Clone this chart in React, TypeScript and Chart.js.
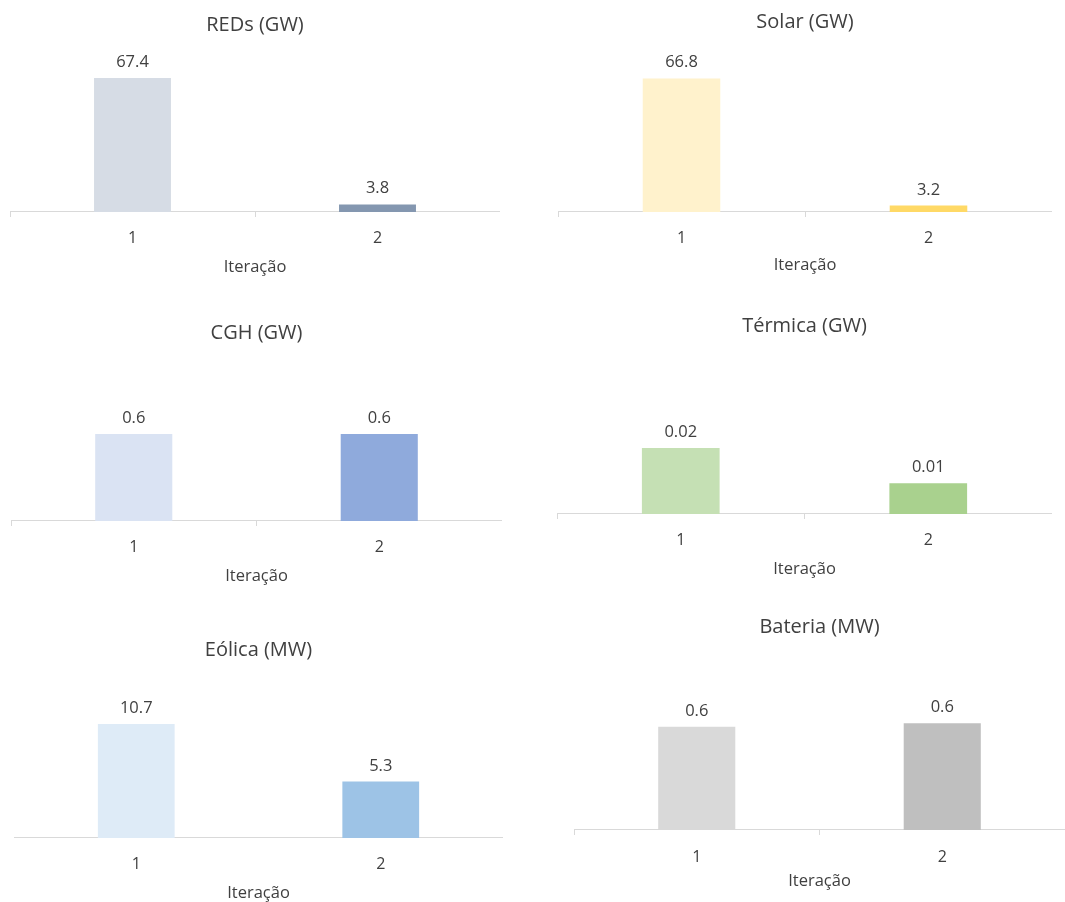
import React, { useEffect, useRef } from "react";
import { Chart, registerables } from "chart.js";

Chart.register(...registerables);

// ---------- data ----------
const categories = ["1", "2"];
const xAxisTitle = "Iteração";
const panelTitles = ["REDs (GW)", "Solar (GW)", "CGH (GW)", "Térmica (GW)", "Eólica (MW)", "Bateria (MW)"];
const redsValues = [67.4, 3.8];
const solarValues = [66.8, 3.2];
const cghValues = [0.6, 0.6];
const termicaValues = [0.0203, 0.0095];
const eolicaValues = [10.7, 5.3];
const bateriaValues = [0.58, 0.6];
const axisMax = [80, 80, 1, 0.04, 14, 1];
const labelDecimals = [1, 1, 1, 2, 1, 1];

// ---------- styles ----------
const panelColors = [
  ["#D6DCE5", "#8497B0"],
  ["#FFF2CC", "#FFD966"],
  ["#DAE3F3", "#8FAADC"],
  ["#C5E0B4", "#A9D18E"],
  ["#DEEBF7", "#9DC3E6"],
  ["#D9D9D9", "#BFBFBF"],
];

const layouts = [
  { left: 10, right: 500, titleY: 25, chartTop: 53, axisY: 212, tickY: 238, axisTitleY: 267, tickMarks: true },
  { left: 558, right: 1052, titleY: 22, chartTop: 52, axisY: 212, tickY: 238, axisTitleY: 265, tickMarks: true },
  { left: 11, right: 502, titleY: 333, chartTop: 376, axisY: 521, tickY: 547, axisTitleY: 576, tickMarks: true },
  { left: 557, right: 1052, titleY: 326, chartTop: 384, axisY: 514, tickY: 540, axisTitleY: 569, tickMarks: true },
  { left: 14, right: 503, titleY: 650, chartTop: 689, axisY: 838, tickY: 864, axisTitleY: 893, tickMarks: false },
  { left: 574, right: 1065, titleY: 627, chartTop: 652, axisY: 830, tickY: 857, axisTitleY: 881, tickMarks: true },
];

const FONT = '"Open Sans", "DejaVu Sans", sans-serif';
const TEXT = "#404040";
const AXIS = "#D9D9D9";
const TITLE_SIZE = 20;
const TITLE_LH = TITLE_SIZE * 1.2;
const TICK_SIZE = 16;
const TICK_LH = TICK_SIZE * 1.0;
const AXT_SIZE = 16.5;
const AXT_LH = AXT_SIZE * 1.2;
const TL = 5;
const DIGIT_OFF = 8;

const barLabelPlugin = {
  id: "barLabels",
  afterDatasetsDraw(chart: any, _args: any, opts: any) {
    const ctx = chart.ctx;
    const meta = chart.getDatasetMeta(0);
    const data = chart.data.datasets[0].data;
    ctx.save();
    ctx.font = `16.5px ${FONT}`;
    ctx.fillStyle = TEXT;
    ctx.textAlign = "center";
    ctx.textBaseline = "alphabetic";
    meta.data.forEach((bar: any, i: number) => {
      ctx.fillText(Number(data[i]).toFixed(opts.decimals ?? 1), bar.x, bar.y - 11);
    });
    ctx.restore();
  },
};

function computeGeometry(l: any) {
  const canvasTop = Math.round(l.titleY - TITLE_LH / 2);
  const titlePadBottom = l.chartTop - canvasTop - TITLE_LH;
  const tickPadding = l.tickY - l.axisY - TL - DIGIT_OFF;
  // Chart.js reserves the tick padding twice when fitting a horizontal axis
  const axisTitlePadTop = l.axisTitleY - l.axisY - TL - 2 * tickPadding - TICK_LH - AXT_LH / 2;
  const axisHeight = TL + 2 * tickPadding + TICK_LH + axisTitlePadTop + AXT_LH;
  const needed = l.axisY - canvasTop + axisHeight;
  const canvasH = Math.ceil(needed);
  const padBottom = canvasH - needed;
  return { canvasTop, titlePadBottom, tickPadding, axisTitlePadTop, canvasH, padBottom, canvasW: l.right - l.left };
}

function Panel({ index, values }: { index: number; values: number[] }) {
  const ref = useRef<HTMLCanvasElement | null>(null);
  const l = layouts[index];
  const g = computeGeometry(l);

  useEffect(() => {
    if (!ref.current) return;
    const chart = new Chart(ref.current, {
      type: "bar",
      data: {
        labels: categories,
        datasets: [
          {
            data: values,
            backgroundColor: panelColors[index],
            borderWidth: 0,
            barPercentage: 0.314,
            categoryPercentage: 1,
          },
        ],
      },
      options: {
        responsive: false,
        animation: false,
        layout: { padding: { top: 0, left: 0, right: 0, bottom: g.padBottom } },
        plugins: {
          legend: { display: false },
          tooltip: { enabled: false },
          title: {
            display: true,
            text: panelTitles[index],
            color: TEXT,
            font: { family: FONT, size: TITLE_SIZE, weight: "normal", lineHeight: 1.2 },
            padding: { top: 0, bottom: g.titlePadBottom },
          },
          barLabels: { decimals: labelDecimals[index] },
        } as any,
        scales: {
          x: {
            offset: true,
            grid: {
              offset: true,
              drawOnChartArea: false,
              drawTicks: true,
              tickLength: TL,
              tickColor: l.tickMarks ? AXIS : "rgba(0,0,0,0)",
            },
            border: { display: true, color: AXIS, width: 1 },
            ticks: {
              color: TEXT,
              padding: g.tickPadding,
              font: { family: FONT, size: TICK_SIZE, lineHeight: 1.0 },
            },
            title: {
              display: true,
              text: xAxisTitle,
              color: TEXT,
              font: { family: FONT, size: AXT_SIZE, lineHeight: 1.2 },
              padding: { top: g.axisTitlePadTop, bottom: 0 },
            },
          },
          y: {
            display: false,
            min: 0,
            max: axisMax[index],
          },
        },
      },
      plugins: [barLabelPlugin],
    });
    return () => chart.destroy();
  }, []);

  return (
    <canvas
      ref={ref}
      width={g.canvasW}
      height={g.canvasH}
      style={{ position: "absolute", left: l.left, top: g.canvasTop, width: g.canvasW, height: g.canvasH }}
    />
  );
}

export default function App() {
  const allValues = [redsValues, solarValues, cghValues, termicaValues, eolicaValues, bateriaValues];
  return (
    <div
      style={{
        position: "absolute",
        left: 0,
        top: 0,
        width: 1065,
        height: 902,
        overflow: "hidden",
        background: "#FFFFFF",
      }}
    >
      {allValues.map((v, i) => (
        <Panel key={i} index={i} values={v} />
      ))}
    </div>
  );
}
